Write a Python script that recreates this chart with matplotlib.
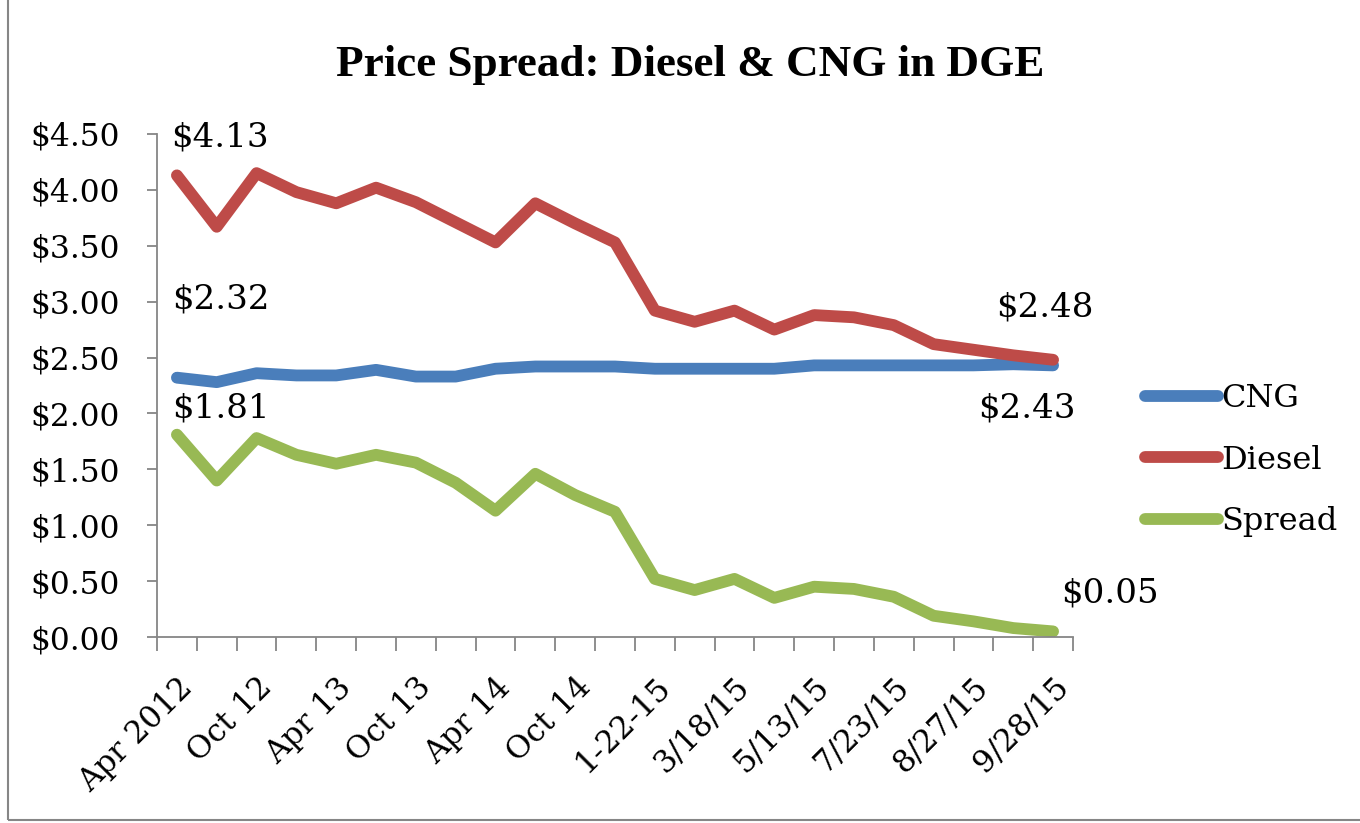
import numpy as np
import matplotlib.pyplot as plt
from matplotlib.patches import Rectangle
from matplotlib.transforms import ScaledTranslation

# category tick labels (every other category is labelled)
tick_labels = ['Apr 2012', 'Oct 12', 'Apr 13', 'Oct 13', 'Apr 14', 'Oct 14',
               '1-22-15', '3/18/15', '5/13/15', '7/23/15', '8/27/15', '9/28/15']
n_cats = 23

cng = [2.32, 2.28, 2.36, 2.34, 2.34, 2.39, 2.33, 2.33, 2.40, 2.42, 2.42, 2.42,
       2.40, 2.40, 2.40, 2.40, 2.43, 2.43, 2.43, 2.43, 2.43, 2.44, 2.43]
diesel = [4.13, 3.67, 4.15, 3.98, 3.88, 4.02, 3.89, 3.71, 3.53, 3.88, 3.70, 3.53,
          2.92, 2.82, 2.92, 2.75, 2.88, 2.86, 2.79, 2.62, 2.57, 2.52, 2.48]
spread = [1.81, 1.40, 1.78, 1.63, 1.55, 1.63, 1.56, 1.38, 1.13, 1.46, 1.27, 1.12,
          0.52, 0.42, 0.52, 0.35, 0.45, 0.43, 0.36, 0.19, 0.14, 0.08, 0.05]

plt.rcParams['font.family'] = ['DejaVu Serif']
fs = 22.5

fig = plt.figure(figsize=(13.6, 8.23), dpi=100)
ax = fig.add_axes([157/1360, 1 - 637/823, (1073-157)/1360, (637-134)/823])

x = np.arange(n_cats)
lw = 8.5
style = dict(lw=lw, solid_capstyle='round', solid_joinstyle='round')
ax.plot(x, cng, color='#4A7EBB', label='CNG', **style)
ax.plot(x, diesel, color='#BE4B48', label='Diesel', **style)
ax.plot(x, spread, color='#98B954', label='Spread', **style)

ax.set_xlim(-0.5, n_cats - 0.5)
ax.set_ylim(0, 4.5)
yt = np.arange(0, 4.51, 0.5)
ax.set_yticks(yt)
ax.set_yticklabels([f'${v:.2f}' for v in yt], fontsize=fs)

ax.set_xticks(np.arange(-0.5, n_cats, 1), minor=True)
ax.set_xticks(np.arange(0, n_cats, 2))
ax.set_xticklabels(tick_labels, fontsize=fs, rotation=45, ha='right', va='top',
                   rotation_mode='anchor')
shift = ScaledTranslation(4/100, 0, fig.dpi_scale_trans)
for lab in ax.get_xticklabels():
    lab.set_transform(lab.get_transform() + shift)
ax.tick_params(axis='x', which='major', length=0, pad=25)
ax.tick_params(axis='x', which='minor', length=10, color='#868686', width=1.3)
ax.tick_params(axis='y', length=7, color='#868686', width=1.3, pad=20)

for s in ['top', 'right']:
    ax.spines[s].set_visible(False)
for s in ['left', 'bottom']:
    ax.spines[s].set_color('#868686')
    ax.spines[s].set_linewidth(1.3)

# data labels
ann = dict(fontsize=24.5, ha='center', va='center', textcoords='offset points')
ax.annotate('$4.13', (0, diesel[0]), xytext=(31, 27), **ann)
ax.annotate('$2.32', (0, cng[0]), xytext=(32, 56), **ann)
ax.annotate('$1.81', (0, spread[0]), xytext=(32, 19), **ann)
ax.annotate('$2.48', (n_cats - 1, diesel[-1]), xytext=(-6, 38), **ann)
ax.annotate('$2.43', (n_cats - 1, cng[-1]), xytext=(-19, -31), **ann)
ax.annotate('$0.05', (n_cats - 1, spread[-1]), xytext=(41, 27), **ann)

fig.text(690/1360, 1 - 65/823, 'Price Spread: Diesel & CNG in DGE', fontsize=32.5,
         fontweight='bold', family='Liberation Serif', ha='center', va='center')

leg = fig.legend(loc='center left', bbox_to_anchor=(1116/1360, 1 - 460/823), frameon=False,
                 fontsize=23, handlelength=2.3, handletextpad=0.1, labelspacing=0.95)
for h in leg.get_lines():
    h.set_solid_capstyle('round')

fig.patches.append(Rectangle((8/1360, 1 - 820/823), 1.5, 2, transform=fig.transFigure,
                             fill=False, edgecolor='#868686', lw=1.5))

fig.savefig('out.png', dpi=100)
